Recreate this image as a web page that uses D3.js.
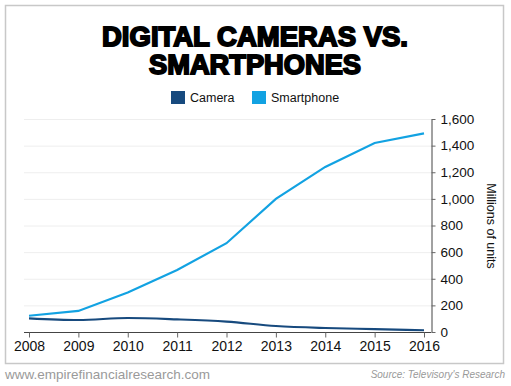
<!DOCTYPE html>
<html>
<head>
<meta charset="utf-8">
<script src="https://cdn.jsdelivr.net/npm/d3@7"></script>
<style>
  body { margin: 0; background: #fff; }
  svg { display: block; }
</style>
</head>
<body>
<div id="chart"></div>
<script>
// Chart data
var years = [2008, 2009, 2010, 2011, 2012, 2013, 2014, 2015, 2016];
var camera = [103, 90, 105, 95, 78, 45, 30, 22, 13];
var smartphone = [122, 158, 297, 466, 667, 1000, 1240, 1420, 1492];
var yTicks = [0, 200, 400, 600, 800, 1000, 1200, 1400, 1600];

var width = 511, height = 386;
var colors = { camera: '#174a7e', smartphone: '#12a2e2' };

var svg = d3.select('#chart').append('svg')
    .attr('width', width)
    .attr('height', height);

// outer frame
svg.append('rect')
    .attr('x', 5.5).attr('y', 5.5)
    .attr('width', 498).attr('height', 358)
    .attr('fill', 'none')
    .attr('stroke', '#c8c8c8')
    .attr('stroke-width', 1.5);

// title, two lines
var title = svg.append('g')
    .attr('font-family', '"Liberation Sans", Arial, sans-serif')
    .attr('font-weight', 'bold')
    .attr('font-size', 28)
    .attr('text-anchor', 'middle')
    .attr('fill', '#000')
    .attr('stroke', '#000')
    .attr('stroke-width', 1.9);
title.append('text').attr('x', 255).attr('y', 46)
    .attr('textLength', 306).attr('lengthAdjust', 'spacingAndGlyphs')
    .text('DIGITAL CAMERAS VS.');
title.append('text').attr('x', 255).attr('y', 74)
    .attr('textLength', 212).attr('lengthAdjust', 'spacingAndGlyphs')
    .text('SMARTPHONES');

// legend
var legend = [
    { name: 'Camera', color: colors.camera, x: 171 },
    { name: 'Smartphone', color: colors.smartphone, x: 252 }
];
var lg = svg.append('g').selectAll('g')
    .data(legend)
    .enter().append('g')
    .attr('transform', function(d) { return 'translate(' + d.x + ',91)'; });
lg.append('rect').attr('width', 14).attr('height', 13)
    .attr('fill', function(d) { return d.color; });
lg.append('text').attr('x', 19).attr('y', 11)
    .attr('font-family', '"Liberation Sans", Arial, sans-serif')
    .attr('font-size', 12.5)
    .attr('fill', '#111')
    .text(function(d) { return d.name; });

// scales
var x = d3.scaleLinear().domain([2008, 2016]).range([29, 424]);
var y = d3.scaleLinear().domain([0, 1600]).range([332, 119]);

// gridlines
svg.append('g').selectAll('line')
    .data(yTicks.slice(1))
    .enter().append('line')
    .attr('x1', 24).attr('x2', 431)
    .attr('y1', function(d) { return y(d) + 0.5; })
    .attr('y2', function(d) { return y(d) + 0.5; })
    .attr('stroke', '#eeeeee')
    .attr('stroke-width', 1);

// x axis
var xAxis = svg.append('g')
    .attr('transform', 'translate(0,' + 332.5 + ')')
    .call(d3.axisBottom(x).tickValues(years).tickFormat(d3.format('d'))
        .tickSizeInner(5).tickSizeOuter(0).tickPadding(4));
xAxis.select('.domain').attr('d', 'M24,0H431').attr('stroke', '#444');
xAxis.selectAll('.tick line').attr('stroke', '#666');
xAxis.selectAll('text')
    .attr('font-family', '"Liberation Sans", Arial, sans-serif')
    .attr('font-size', 14)
    .attr('fill', '#111');

// y axis (right)
var yAxis = svg.append('g')
    .attr('transform', 'translate(431.5,0)')
    .call(d3.axisRight(y).tickValues(yTicks).tickFormat(d3.format(','))
        .tickSizeInner(4).tickSizeOuter(0).tickPadding(5));
yAxis.select('.domain').attr('stroke', '#444');
yAxis.selectAll('.tick line').attr('stroke', '#666');
yAxis.selectAll('text')
    .attr('font-family', '"Liberation Sans", Arial, sans-serif')
    .attr('font-size', 13.5)
    .attr('fill', '#111');

svg.append('text')
    .attr('transform', 'translate(487,226) rotate(90)')
    .attr('text-anchor', 'middle')
    .attr('font-family', '"Liberation Sans", Arial, sans-serif')
    .attr('font-size', 12.5)
    .attr('fill', '#111')
    .text('Millions of units');

// lines
var camLine = d3.line()
    .x(function(d, i) { return x(years[i]); })
    .y(function(d) { return y(d); })
    .curve(d3.curveMonotoneX);
var phoneLine = d3.line()
    .x(function(d, i) { return x(years[i]); })
    .y(function(d) { return y(d); });

svg.append('path').datum(camera)
    .attr('d', camLine)
    .attr('fill', 'none')
    .attr('stroke', colors.camera)
    .attr('stroke-width', 2.2);
svg.append('path').datum(smartphone)
    .attr('d', phoneLine)
    .attr('fill', 'none')
    .attr('stroke', colors.smartphone)
    .attr('stroke-width', 2.2);

// footer
svg.append('text')
    .attr('x', 5).attr('y', 379)
    .attr('font-family', '"Liberation Sans", Arial, sans-serif')
    .attr('font-size', 13.5)
    .attr('fill', '#9a9a9a')
    .attr('textLength', 205).attr('lengthAdjust', 'spacingAndGlyphs')
    .text('www.empirefinancialresearch.com');
svg.append('text')
    .attr('x', 505).attr('y', 378)
    .attr('text-anchor', 'end')
    .attr('font-family', '"Liberation Sans", Arial, sans-serif')
    .attr('font-size', 10)
    .attr('font-style', 'italic')
    .attr('fill', '#999')
    .text("Source: Televisory's Research");
</script>
</body>
</html>
